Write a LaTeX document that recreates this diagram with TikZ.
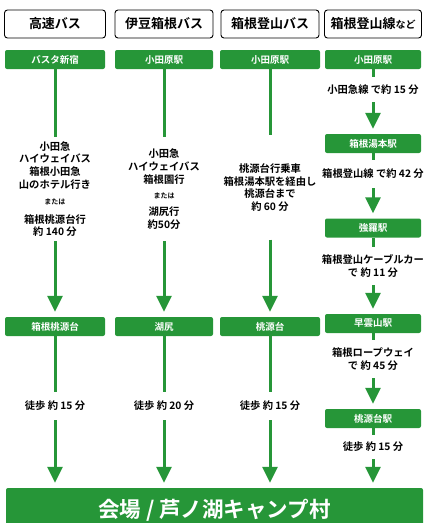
\documentclass[tikz,border=0pt]{standalone}
\usepackage{fontspec}
\setmainfont{Noto Sans CJK JP}[BoldFont=* Bold]
\usetikzlibrary{arrows.meta}
\definecolor{RouteClr}{RGB}{38,150,56}

\tikzset{
  head/.style={draw=black,line width=0.9pt,rounded corners=3pt,fill=white,
    minimum height=28pt,inner sep=0pt,font=\bfseries\fontsize{13}{15}\selectfont},
  stn/.style={fill=RouteClr,rounded corners=2pt,minimum height=19pt,inner sep=0pt,
    text=white,font=\bfseries\fontsize{9.5}{11}\selectfont},
  note/.style={align=center,inner sep=0pt,font=\bfseries\fontsize{10.3}{12.8}\selectfont},
  seg/.style={draw=RouteClr,line width=3pt},
  arr/.style={seg,-{Triangle[width=15pt,length=16pt]},shorten >=5pt},
}

\begin{document}
\begin{tikzpicture}[x=1pt,y=-1pt]
\useasboundingbox (0,0) rectangle (424,523);

% headers
\node[head,minimum width=101pt] (h1) at (55,24) {高速バス};
\node[head,minimum width=98pt] (h2) at (164,24) {伊豆箱根バス};
\node[head,minimum width=98pt] (h3) at (270,24) {箱根登山バス};
\node[head,minimum width=97pt] (h4) at (373,24) {箱根登山線{\fontsize{10}{12}\selectfont など}};

% stations
\node[stn,minimum width=100pt] (s11) at (55,59.5) {バスタ新宿};
\node[stn,minimum width=98pt] (s21) at (164,59.5) {小田原駅};
\node[stn,minimum width=100pt] (s31) at (270,59.5) {小田原駅};
\node[stn,minimum width=96pt] (s41) at (373,59.5) {小田原駅};

\node[stn,minimum width=100pt] (s12) at (55,326.5) {箱根桃源台};
\node[stn,minimum width=98pt] (s22) at (164,326.5) {湖尻};
\node[stn,minimum width=100pt] (s32) at (270,326.5) {桃源台};

\node[stn,minimum width=96pt] (s42) at (373,143.5) {箱根湯本駅};
\node[stn,minimum width=96pt] (s43) at (373,228) {強羅駅};
\node[stn,minimum width=96pt] (s44) at (373,323.5) {早雲山駅};
\node[stn,minimum width=96pt] (s45) at (373,418.5) {桃源台駅};

\node[stn,minimum width=417pt,minimum height=44pt,
  font=\bfseries\fontsize{21.5}{24}\selectfont] (goal) at (214.5,510) {会場 / 芦ノ湖キャンプ村};

% ride texts
\node[note,minimum height=104pt] (t1) at (55,189) {小田急\\ハイウェイバス\\箱根小田急\\山のホテル行き\\[3pt]
  {\fontsize{7}{8}\selectfont または}\\[6pt]箱根桃源台行\\約 140 分};
\node[note,minimum height=104pt] (t2) at (164,189) {小田急\\ハイウェイバス\\箱根園行\\[3pt]
  {\fontsize{7}{8}\selectfont または}\\[4pt]湖尻行\\約50分};
\node[note,minimum height=104pt] (t3) at (270,187.5) {桃源台行乗車\\箱根湯本駅を経由し\\桃源台まで\\約 60 分};

\node[note,minimum height=25pt] (u1) at (373,89.5) {小田急線 で約 15 分};
\node[note,minimum height=28pt] (u2) at (373,174) {箱根登山線 で約 42 分};
\node[note,minimum height=38pt] (u3) at (373,266) {箱根登山ケーブルカー\\で 約 11 分};
\node[note,minimum height=38pt] (u4) at (373,359) {箱根ロープウェイ\\で 約 45 分};
\node[note,minimum height=24pt] (u5) at (373,447) {徒歩 約 15 分};

% walk texts
\node[note,minimum height=28pt] (w1) at (55,406) {徒歩 約 15 分};
\node[note,minimum height=28pt] (w2) at (164,406) {徒歩 約 20 分};
\node[note,minimum height=28pt] (w3) at (270,406) {徒歩 約 15 分};

% connectors
\draw[seg] (s11) -- (t1);
\draw[arr] (t1) -- (s12);
\draw[seg] (s12) -- (w1);
\draw[arr] (w1.south) -- (w1.south |- goal.north);

\draw[seg] (s21) -- (t2);
\draw[arr] (t2) -- (s22);
\draw[seg] (s22) -- (w2);
\draw[arr] (w2.south) -- (w2.south |- goal.north);

\draw[seg] (s31) -- (t3.north);
\draw[arr] (t3.south) -- (s32);
\draw[seg] (s32) -- (w3);
\draw[arr] (w3.south) -- (w3.south |- goal.north);

\draw[seg] (s41) -- (u1);
\draw[arr] (u1) -- (s42);
\draw[seg] (s42) -- (u2);
\draw[arr] (u2) -- (s43);
\draw[seg] (s43) -- (u3);
\draw[arr] (u3) -- (s44);
\draw[seg] (s44) -- (u4);
\draw[arr] (u4) -- (s45);
\draw[seg] (s45) -- (u5);
\draw[arr] (u5.south) -- (u5.south |- goal.north);

\end{tikzpicture}
\end{document}
